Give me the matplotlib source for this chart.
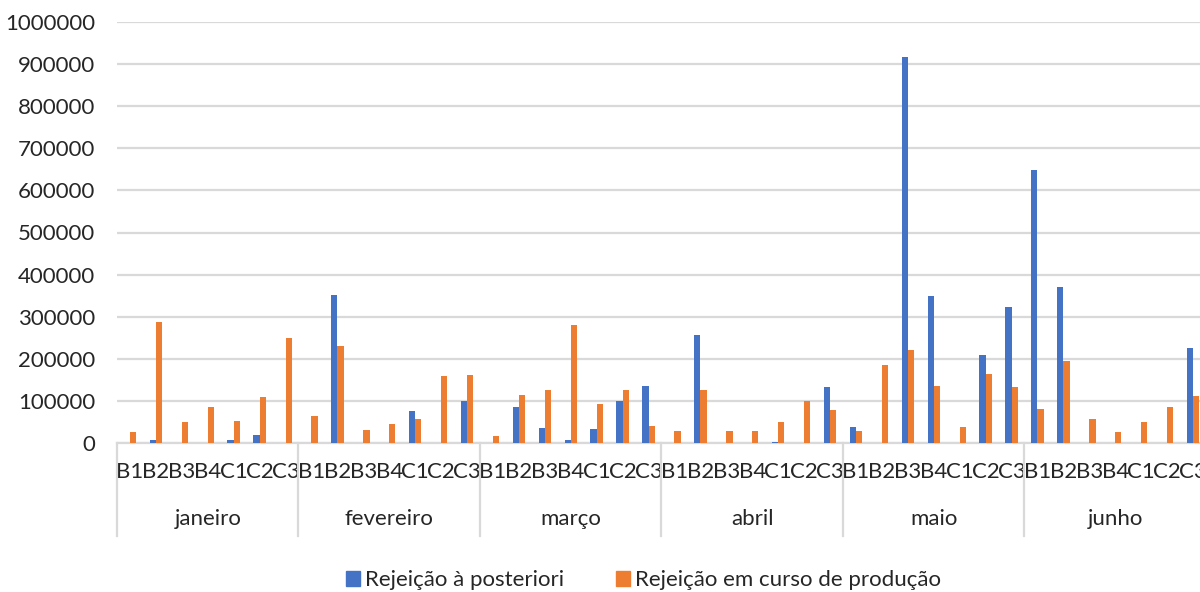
import matplotlib
matplotlib.use("Agg")
import matplotlib.pyplot as plt
import matplotlib.patches as mpatches
import numpy as np

# Data
months = ["janeiro", "fevereiro", "março", "abril", "maio", "junho"]
lines = ["B1", "B2", "B3", "B4", "C1", "C2", "C3"]
series_names = ["Rejeição à posteriori", "Rejeição em curso de produção"]

rej_posteriori = [
    [0, 7000, 0, 0, 6000, 19000, 0],               # janeiro
    [0, 352000, 0, 0, 75000, 0, 99000],            # fevereiro
    [0, 85000, 36000, 7000, 33000, 100000, 135000],  # março
    [0, 257000, 0, 0, 2000, 0, 134000],            # abril
    [37000, 0, 916000, 349000, 0, 210000, 323000],  # maio
    [649000, 371000, 0, 0, 0, 0, 225000],          # junho
]
rej_curso = [
    [27000, 287000, 49000, 86000, 52000, 109000, 250000],
    [64000, 230000, 31000, 45000, 56000, 159000, 161000],
    [16000, 114000, 126000, 280000, 93000, 125000, 40000],
    [28000, 127000, 28000, 29000, 51000, 100000, 78000],
    [28000, 185000, 221000, 135000, 37000, 165000, 133000],
    [81000, 195000, 58000, 25000, 50000, 85000, 111000],
]
y_ticks = [0, 100000, 200000, 300000, 400000, 500000, 600000, 700000,
           800000, 900000, 1000000]

BLUE = "#4472C4"
ORANGE = "#ED7D31"
GRID = "#D9D9D9"
TEXT = "#262626"
FONT = ["Lato", "DejaVu Sans"]
FS = 16

plt.rcParams["font.family"] = FONT

W, H = 1200, 592
fig = plt.figure(figsize=(W / 100, H / 100), dpi=100)
left, right, bottom, top = 117, 1206, 443, 22
ax = fig.add_axes([left / W, 1 - bottom / H, (right - left) / W, (bottom - top) / H])

n_cat = len(lines)
n_month = len(months)
x = np.arange(n_month * n_cat)
blue_vals = np.array(rej_posteriori).ravel()
orange_vals = np.array(rej_curso).ravel()

bar_w = 1 / (2 + 2.19)
ax.bar(x - bar_w / 2, blue_vals, width=bar_w, color=BLUE, zorder=3, label=series_names[0])
ax.bar(x + bar_w / 2, orange_vals, width=bar_w, color=ORANGE, zorder=3, label=series_names[1])

ax.set_xlim(-0.5, n_month * n_cat - 0.5)
ax.set_ylim(0, 1000000)
ax.set_yticks(y_ticks)
ax.set_yticklabels([str(v) for v in y_ticks])
ax.yaxis.grid(True, color=GRID, lw=1.6, zorder=0)
ax.set_axisbelow(True)
for s in ["left", "right", "top"]:
    ax.spines[s].set_visible(False)
ax.spines["bottom"].set_color(GRID)
ax.spines["bottom"].set_linewidth(1.6)
ax.tick_params(axis="y", length=0, pad=15.5, labelsize=FS, labelcolor=TEXT)

# Category labels (inner level)
ax.set_xticks(x)
ax.set_xticklabels(lines * n_month)
ax.tick_params(axis="x", length=0, pad=14, labelsize=FS, labelcolor=TEXT)

# Month labels and separators (outer level)
ax_h = bottom - top
sep_bottom = -(536 - bottom) / ax_h
month_y = -(519 - bottom) / ax_h
trans = ax.get_xaxis_transform()
for m in range(n_month + 1):
    xb = m * n_cat - 0.5
    ax.plot([xb, xb], [0, sep_bottom], transform=trans, color=GRID, lw=1.6, clip_on=False)
for m, name in enumerate(months):
    xc = m * n_cat + (n_cat - 1) / 2
    ax.text(xc, month_y, name, transform=trans, ha="center", va="center",
            fontsize=FS, color=TEXT)

# Legend
handles = [mpatches.Patch(color=BLUE, label=series_names[0]),
           mpatches.Patch(color=ORANGE, label=series_names[1])]
leg = fig.legend(handles=handles, loc="center", bbox_to_anchor=(643.5 / W, 1 - 580 / H),
                 ncol=2, frameon=False, fontsize=FS, handlelength=0.64, handleheight=0.64,
                 handletextpad=0.25, columnspacing=2.3, borderpad=0)
for t in leg.get_texts():
    t.set_color(TEXT)

fig.savefig("out.png", dpi=100, facecolor="white")
